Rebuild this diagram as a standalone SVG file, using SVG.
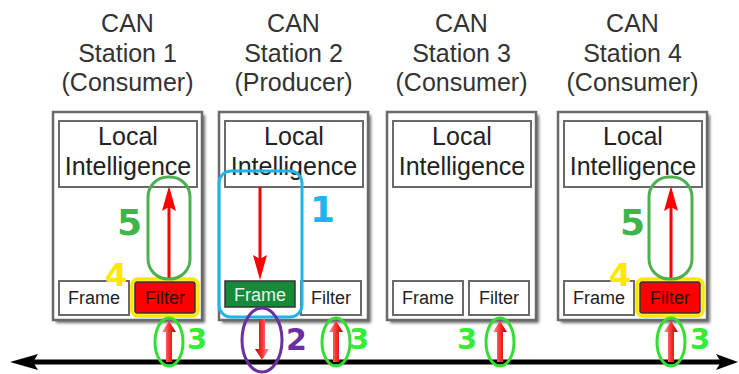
<svg xmlns="http://www.w3.org/2000/svg" width="739" height="374" viewBox="0 0 739 374">
<style>
.title{font-family:"Liberation Sans",Arial,sans-serif;font-size:25px;fill:#333;text-anchor:middle}
.li{font-family:"Liberation Sans",Arial,sans-serif;font-size:25px;fill:#222;text-anchor:middle}
.small{font-family:"Liberation Sans",Arial,sans-serif;font-size:18px;fill:#222;text-anchor:middle}
.box{fill:#fff;stroke:#6a6a6a;stroke-width:2.5}
.inner{fill:#fff;stroke:#6a6a6a;stroke-width:2}
.shadow{fill:#333;opacity:.7}
.num{font-family:"DejaVu Sans",sans-serif;font-weight:bold}
.g5{fill:#3cb54a}
.g3{fill:#33ee33}
.y4{fill:#ffe800}
.redline{stroke:#ff0000;stroke-width:3;fill:none}
.redhead{fill:#ff0000}
.ring{fill:none;stroke:#33dd33;stroke-width:3}
.greenring{fill:none;stroke:#4caf50;stroke-width:3}
.filterRed{fill:#ff0000;stroke:#333;stroke-width:1.5}
.yellowhl{fill:none;stroke:#ffe600;stroke-width:3.5}
</style>
<defs>
<filter id="blur" x="-10%" y="-10%" width="120%" height="120%"><feGaussianBlur stdDeviation="1.5"/></filter>
<linearGradient id="arr3d" x1="0" y1="0" x2="1" y2="0">
<stop offset="0" stop-color="#ff9a9a"/>
<stop offset="0.5" stop-color="#ff3030"/>
<stop offset="1" stop-color="#b00000"/>
</linearGradient>
<g id="upArrow">
<path d="M-3,20 L-3,-10 L-7,-10 L0,-21 L7,-10 L3,-10 L3,20 Z" fill="url(#arr3d)"/>
</g>
</defs>

<!-- Titles -->
<g id="titles">
<text class="title" x="127.5" y="32">CAN</text>
<text class="title" x="127.5" y="62">Station 1</text>
<text class="title" x="127.5" y="91">(Consumer)</text>
<text class="title" x="293.5" y="32">CAN</text>
<text class="title" x="293.5" y="62">Station 2</text>
<text class="title" x="293.5" y="91">(Producer)</text>
<text class="title" x="461.5" y="32">CAN</text>
<text class="title" x="461.5" y="62">Station 3</text>
<text class="title" x="461.5" y="91">(Consumer)</text>
<text class="title" x="632.5" y="32">CAN</text>
<text class="title" x="632.5" y="62">Station 4</text>
<text class="title" x="632.5" y="91">(Consumer)</text>
</g>

<!-- Station 1 -->
<g id="station1">
<rect class="shadow" x="56" y="115" width="149" height="208" filter="url(#blur)"/>
<rect class="box" x="53" y="112" width="149" height="208"/>
<rect class="inner" x="59" y="121" width="138" height="66"/>
<text class="li" x="128" y="145">Local</text>
<text class="li" x="128" y="175">Intelligence</text>
<rect class="inner" x="59" y="281" width="70" height="34"/>
<text class="small" x="94" y="304">Frame</text>
<rect class="filterRed" x="135" y="282" width="60" height="31" rx="2"/>
<text class="small" x="165" y="304" style="fill:#300">Filter</text>
<rect class="yellowhl" x="132" y="279" width="66" height="37" rx="6"/>
</g>

<!-- Station 2 -->
<g id="station2">
<rect class="shadow" x="222" y="115" width="149" height="208" filter="url(#blur)"/>
<rect class="box" x="219" y="112" width="149" height="208"/>
<rect class="inner" x="225" y="121" width="138" height="66"/>
<text class="li" x="294" y="145">Local</text>
<text class="li" x="294" y="175">Intelligence</text>
<rect x="225" y="281" width="70" height="26" fill="#178a3a" stroke="#333" stroke-width="1.5"/>
<text class="small" x="260" y="301" style="fill:#e8f5e8">Frame</text>
<rect class="inner" x="301" y="281" width="60" height="34"/>
<text class="small" x="331" y="304">Filter</text>
</g>

<!-- Station 3 -->
<g id="station3">
<rect class="shadow" x="390" y="115" width="149" height="208" filter="url(#blur)"/>
<rect class="box" x="387" y="112" width="149" height="208"/>
<rect class="inner" x="393" y="121" width="138" height="66"/>
<text class="li" x="462" y="145">Local</text>
<text class="li" x="462" y="175">Intelligence</text>
<rect class="inner" x="393" y="281" width="70" height="34"/>
<text class="small" x="428" y="304">Frame</text>
<rect class="inner" x="469" y="281" width="60" height="34"/>
<text class="small" x="499" y="304">Filter</text>
</g>

<!-- Station 4 -->
<g id="station4">
<rect class="shadow" x="561" y="115" width="149" height="208" filter="url(#blur)"/>
<rect class="box" x="558" y="112" width="149" height="208"/>
<rect class="inner" x="564" y="121" width="138" height="66"/>
<text class="li" x="633" y="145">Local</text>
<text class="li" x="633" y="175">Intelligence</text>
<rect class="inner" x="564" y="281" width="70" height="34"/>
<text class="small" x="599" y="304">Frame</text>
<rect class="filterRed" x="640" y="282" width="60" height="31" rx="2"/>
<text class="small" x="670" y="304" style="fill:#300">Filter</text>
<rect class="yellowhl" x="637" y="279" width="66" height="37" rx="6"/>
</g>

<!-- Bus -->
<g id="bus">
<line x1="30" y1="365" x2="722" y2="365" stroke="#999" stroke-width="5" filter="url(#blur)"/>
<line x1="30" y1="362" x2="722" y2="362" stroke="#000" stroke-width="5"/>
<polygon points="10,362 38,354 33,362 38,370" fill="#000"/>
<polygon points="738,362 716,354 721,362 716,370" fill="#000"/>
</g>

<!-- Connectors and annotations -->
<g id="connectors">
<line class="redline" x1="169" y1="279" x2="169" y2="205"/>
<polygon class="redhead" points="169,186 176,211 169,207 162,211"/>
<rect class="greenring" x="148" y="177" width="42" height="102" rx="20"/>
<line class="redline" x1="671" y1="279" x2="671" y2="205"/>
<polygon class="redhead" points="671,186 678,211 671,207 664,211"/>
<rect class="greenring" x="649" y="177" width="43" height="102" rx="20"/>
<line class="redline" x1="260" y1="187" x2="260" y2="262"/>
<polygon class="redhead" points="260,280 267,255 260,259 253,255"/>
<rect x="219" y="171" width="83" height="146" rx="12" fill="none" stroke="#1fb4ea" stroke-width="3"/>

<use href="#upArrow" x="169" y="342"/>
<use href="#upArrow" x="336" y="342"/>
<use href="#upArrow" x="500" y="342"/>
<use href="#upArrow" x="671" y="342"/>
<use href="#upArrow" transform="translate(262,339) rotate(180)"/>

<ellipse class="ring" cx="169" cy="342" rx="14" ry="24"/>
<ellipse class="ring" cx="336" cy="342" rx="14" ry="24"/>
<ellipse class="ring" cx="500" cy="342" rx="14" ry="24"/>
<ellipse class="ring" cx="671" cy="342" rx="14" ry="24"/>
<ellipse cx="262" cy="340" rx="20" ry="32" fill="none" stroke="#6b2fa0" stroke-width="3"/>
</g>

<!-- Step numbers -->
<g id="labels">
<text class="num" x="310" y="222" font-size="36" fill="#1fb4ea">1</text>
<text class="num" x="286" y="350" font-size="30" fill="#6b2fa0">2</text>
<text class="num g3" x="187" y="349" font-size="29">3</text>
<text class="num g3" x="349" y="349" font-size="29">3</text>
<text class="num g3" x="457" y="349" font-size="29">3</text>
<text class="num g3" x="690" y="349" font-size="29">3</text>
<text class="num y4" x="105" y="286" font-size="32">4</text>
<text class="num y4" x="609" y="286" font-size="32">4</text>
<text class="num g5" x="117" y="235" font-size="36">5</text>
<text class="num g5" x="620" y="235" font-size="36">5</text>
</g>
</svg>
